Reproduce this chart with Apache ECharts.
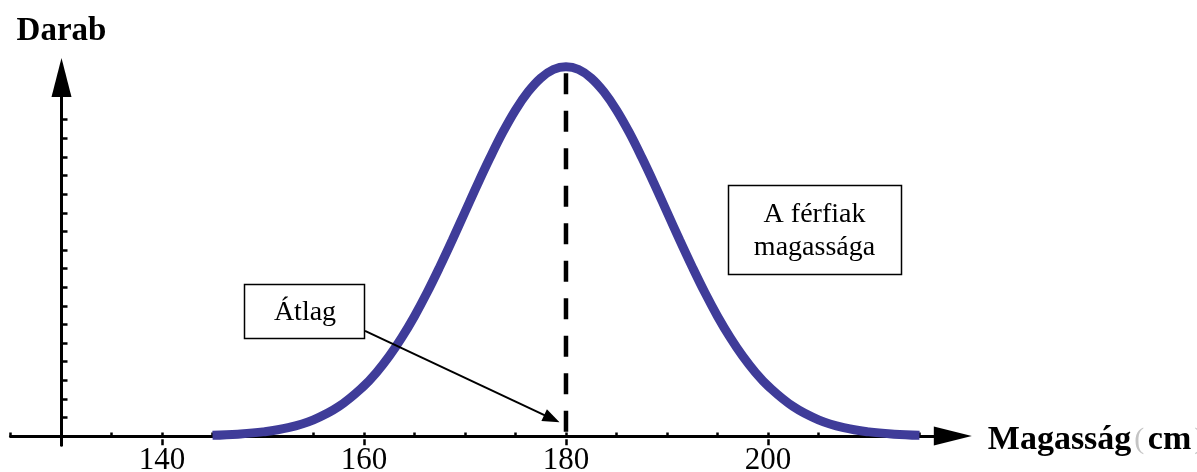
<!DOCTYPE html>
<html><head><meta charset="utf-8">
<script src="https://cdn.jsdelivr.net/npm/echarts@6/dist/echarts.min.js"></script>
<style>html,body{margin:0;padding:0;background:#fff}#c{width:1197px;height:472px}</style>
</head><body><div id="c"></div>
<script>
// Heights (cm) and counts
const heights = [145,147.5,150,152.5,155,157.5,160,161.25,162.5,163.75,165,166.25,167.5,168.75,170,171.25,172.5,173.75,175,176.25,177.5,178.75,180,181.25,182.5,183.75,185,186.25,187.5,188.75,190,191.25,192.5,193.75,195,196.25,197.5,198.75,200,202.5,205,207.5,210,212.5,215];
const counts  = [0.04,0.1,0.22,0.45,0.87,1.58,2.69,3.42,4.29,5.3,6.44,7.71,9.09,10.54,12.04,13.54,14.98,16.33,17.52,18.5,19.24,19.7,19.85,19.7,19.24,18.5,17.52,16.33,14.98,13.54,12.04,10.54,9.09,7.71,6.44,5.3,4.29,3.42,2.69,1.58,0.87,0.45,0.22,0.1,0.04];
const xTickLabels = [140,160,180,200];
const yTickValues = [1,2,3,4,5,6,7,8,9,10,11,12,13,14,15,16,17];
const meanHeight = 180;
const meanLineTop = 19.5;
const arrowFrom = [160.1, 5.65];
const arrowTo = [178.6, 0.93];

const serif = '"Liberation Serif", "Times New Roman", serif';
const chart = echarts.init(document.getElementById('c'));
const curve = heights.map((h, i) => [h, counts[i]]);

chart.setOption({
  animation: false,
  backgroundColor: '#fff',
  grid: { left: 10.5, right: 244.2, top: 77.5, bottom: 26.7, outerBoundsMode: 'none', containLabel: false },
  xAxis: [{
    type: 'value', min: 125, max: 218.3, interval: 5, position: 'bottom',
    name: '{a|Magasság}{p|(}{s| }{a|cm}{p|)}', nameLocation: 'end', nameGap: 35,
    nameTextStyle: {
      fontFamily: serif, fontSize: 34, fontWeight: 'bold', color: '#000',
      align: 'left', verticalAlign: 'middle', padding: [8, 0, 0, 0],
      rich: {
        a: { fontFamily: serif, fontSize: 34, fontWeight: 'bold', color: '#000' },
        p: { fontFamily: serif, fontSize: 30, fontWeight: 'normal', color: '#c4c4c4', padding: [0, 0, 0, 3] },
        s: { fontFamily: serif, fontSize: 14, color: '#000' }
      }
    },
    axisLine: { show: true, onZero: true, symbol: ['none', 'triangle'], symbolSize: [19, 38], lineStyle: { color: '#000', width: 3 } },
    axisTick: { show: true, inside: true, length: 3.5, lineStyle: { color: '#000', width: 2.5 } },
    axisLabel: { show: true, customValues: xTickLabels, fontFamily: serif, fontSize: 31, color: '#000', margin: 0 },
    splitLine: { show: false }
  }, {
    type: 'value', min: 125, max: 218.3, position: 'bottom',
    axisLine: { show: false, onZero: true },
    axisTick: { show: true, inside: true, length: 6, customValues: xTickLabels, lineStyle: { color: '#000', width: 2.5 } },
    axisLabel: { show: false },
    splitLine: { show: false }
  }],
  yAxis: {
    type: 'value', min: -0.5, max: 19.27, offset: -51, position: 'left',
    name: 'Darab', nameLocation: 'end', nameGap: 30,
    nameTextStyle: { fontFamily: serif, fontSize: 33, fontWeight: 'bold', color: '#000' },
    axisLine: { show: true, onZero: false, symbol: ['none', 'triangle'], symbolSize: [20, 39], lineStyle: { color: '#000', width: 3 } },
    axisTick: { show: true, inside: true, length: 6, customValues: yTickValues, lineStyle: { color: '#000', width: 2.5 } },
    axisLabel: { show: false },
    splitLine: { show: false }
  },
  series: [{
    type: 'line',
    data: [[meanHeight, meanLineTop], [meanHeight, 0]],
    symbol: 'none', clip: false, silent: true,
    lineStyle: { color: '#000', width: 4.5, type: [21, 16.5] },
    markLine: {
      silent: true, symbol: ['none', 'triangle'], symbolSize: [13, 17],
      label: { show: false },
      lineStyle: { color: '#000', width: 2, type: 'solid' },
      data: [[{ coord: arrowFrom }, { coord: arrowTo }]]
    },
    z: 3
  }, {
    type: 'line',
    data: curve,
    smooth: 0.4, symbol: 'none', clip: false, silent: true,
    lineStyle: { color: '#3f3c99', width: 9 },
    z: 4
  }],
  graphic: [
    { type: 'rect', shape: { x: 244.5, y: 284.5, width: 120, height: 54 }, style: { fill: '#fff', stroke: '#000', lineWidth: 1.5 }, z: 100 },
    { type: 'text', x: 305, y: 313, style: { text: 'Átlag', font: '28px ' + serif, fill: '#000', align: 'center', verticalAlign: 'middle' }, z: 101 },
    { type: 'rect', shape: { x: 728.5, y: 185.5, width: 173, height: 89 }, style: { fill: '#fff', stroke: '#000', lineWidth: 1.5 }, z: 100 },
    { type: 'text', x: 814.5, y: 231, style: { text: 'A férfiak\nmagassága', font: '28px ' + serif, lineHeight: 33, fill: '#000', align: 'center', verticalAlign: 'middle' }, z: 101 }
  ]
});
</script></body></html>
